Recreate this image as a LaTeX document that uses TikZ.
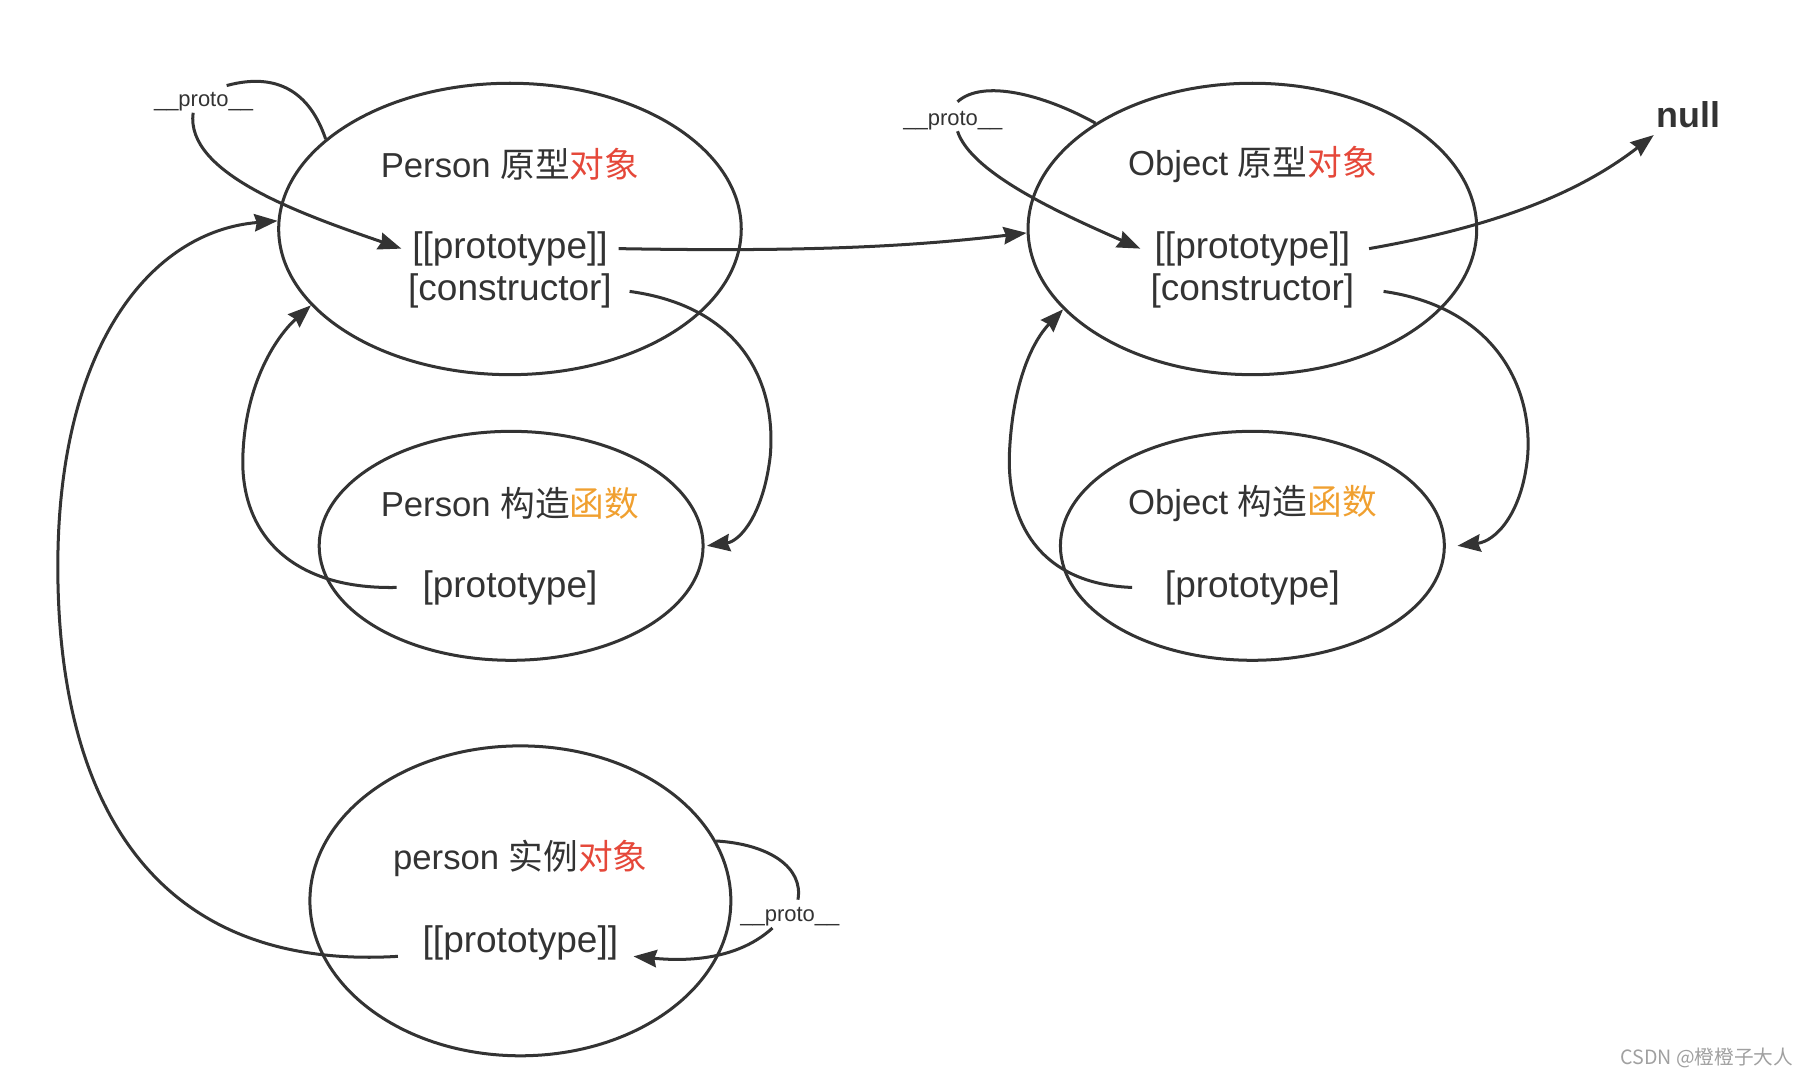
\documentclass[tikz,border=0pt]{standalone}
\usepackage{fontspec}
\setmainfont{Liberation Sans}
\newfontfamily\cjk{Noto Sans CJK SC}
\usetikzlibrary{shapes.geometric,arrows.meta}
\definecolor{ink}{HTML}{333333}
\definecolor{hlred}{HTML}{E5483A}
\definecolor{hlorange}{HTML}{F0A030}
\definecolor{wm}{HTML}{A0A0A0}
\begin{document}
\begin{tikzpicture}[x=0.5pt,y=-0.5pt,
  oval/.style={ellipse,draw=ink,line width=1.3pt,inner sep=0pt},
  txt/.style={text=ink,font=\fontsize{16}{19}\selectfont,inner sep=0pt},
  ttl/.style={text=ink,font=\fontsize{15}{18}\selectfont,inner sep=0pt},
  lbl/.style={text=ink,font=\fontsize{9.5}{11}\selectfont,inner sep=0.5pt},
  link/.style={draw=ink,line width=1.3pt},
  arr/.style={link,-{Stealth[length=10pt,width=7.5pt,inset=1pt]}}]
\useasboundingbox (0,0) rectangle (1560,929);
% ellipses
\node[oval,minimum width=200pt,minimum height=126pt] (PP) at (441,198) {};
\node[oval,minimum width=194pt,minimum height=126pt] (OP) at (1083,198) {};
\node[oval,minimum width=166pt,minimum height=99pt] (PC) at (442,472) {};
\node[oval,minimum width=166pt,minimum height=99pt] (OC) at (1083,472) {};
\node[oval,minimum width=182pt,minimum height=134pt] (PI) at (450,779) {};
% texts
\node[ttl] (PPt) at (441,142) {Person {\cjk 原型}{\cjk\color{hlred}对象}};
\node[txt] (PPk) at (441,215) {[[prototype]]};
\node[txt] (PPc) at (441,252) {[constructor]};
\node[ttl] (OPt) at (1083,142) {Object {\cjk 原型}{\cjk\color{hlred}对象}};
\node[txt] (OPk) at (1083,215) {[[prototype]]};
\node[txt] (OPc) at (1083,252) {[constructor]};
\node[ttl] (PCt) at (441,435) {Person {\cjk 构造}{\cjk\color{hlorange}函数}};
\node[txt] (PCk) at (441,508) {[prototype]};
\node[ttl] (OCt) at (1083,435) {Object {\cjk 构造}{\cjk\color{hlorange}函数}};
\node[txt] (OCk) at (1083,508) {[prototype]};
\node[ttl] (PIt) at (450,742) {person {\cjk 实例}{\cjk\color{hlred}对象}};
\node[txt] (PIk) at (450,815) {[[prototype]]};
\node[text=ink,font=\bfseries\fontsize{15.5}{18}\selectfont,inner sep=0pt] (N) at (1460,99) {null};
\node[lbl] (L1) at (176,88) {\_\_proto\_\_};
\node[lbl] (L2) at (824,104) {\_\_proto\_\_};
\node[lbl] (L3) at (683,793) {\_\_proto\_\_};
\node[text=wm,font=\cjk\fontsize{8.5}{10}\selectfont,inner sep=0pt] (W) at (1476,915) {CSDN @橙橙子大人};
% Person prototype __proto__ self loop
\draw[link] (PP.154) .. controls (268,80) and (240,62) .. (196,74);
\draw[arr] ([xshift=-4.5pt]L1.south) .. controls (160,150) and (260,185) .. ([xshift=-4.5pt]PPk.west);
% Person [[prototype]] -> Object prototype
\draw[arr] ([xshift=4.5pt]PPk.east) .. controls (700,218) and (790,213) .. (OP.181);
% Person [constructor] -> Person constructor
\draw[arr] ([xshift=7.5pt]PPc.east) .. controls (640,265) and (672,330) .. (666,395) .. controls (660,445) and (640,468) .. ([xshift=1pt]PC.east);
% Person ctor [prototype] -> Person prototype
\draw[arr] ([xshift=-11pt]PCk.west) .. controls (250,510) and (208,460) .. (210,395) .. controls (212,330) and (240,290) .. (PP.201);
% instance [[prototype]] -> Person prototype
\draw[arr] ([xshift=-10.5pt,yshift=-6pt]PIk.west) .. controls (130,840) and (50,690) .. (50,490) .. controls (50,300) and (130,200) .. (PP.178);
% instance __proto__ loop
\draw[link] (PI.17) .. controls (665,730) and (695,750) .. (690,778);
\draw[arr] ([xshift=-7.5pt]L3.south) .. controls (640,828) and (600,832) .. ([xshift=6.5pt,yshift=-6pt]PIk.east);
% Object prototype __proto__ self loop
\draw[link] (OP.146) .. controls (903,82) and (850,68) .. (828,88);
\draw[arr] ([xshift=2pt]L2.south) .. controls (840,150) and (918,185) .. ([xshift=-6pt]OPk.west);
% Object [[prototype]] -> null
\draw[arr] ([xshift=8pt]OPk.east) .. controls (1298,195) and (1368,165) .. ([xshift=-1pt,yshift=-3pt]N.south west);
% Object [constructor] -> Object constructor
\draw[arr] ([xshift=12.5pt]OPc.east) .. controls (1288,265) and (1326,330) .. (1321,395) .. controls (1316,445) and (1293,468) .. ([xshift=5pt]OC.east);
% Object ctor [prototype] -> Object prototype
\draw[arr] ([xshift=-14pt]OCk.west) .. controls (898,505) and (870,450) .. (873,390) .. controls (876,330) and (893,295) .. (OP.203);
\end{tikzpicture}
\end{document}
